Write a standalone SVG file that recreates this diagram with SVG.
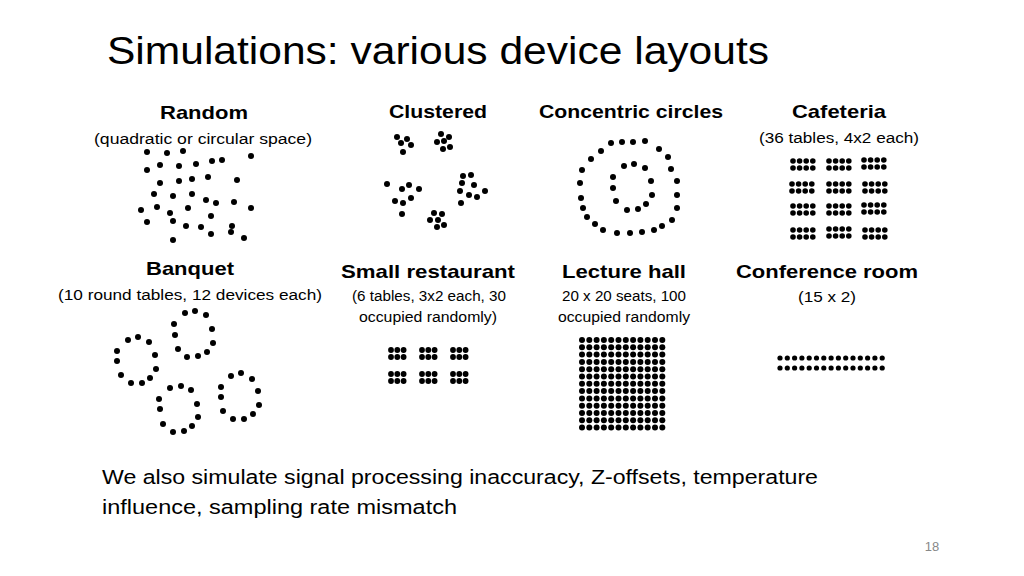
<svg xmlns="http://www.w3.org/2000/svg" width="1024" height="576" viewBox="0 0 1024 576">
<style>
text{font-family:"Liberation Sans",Arial,sans-serif;fill:#000}
.t{font-size:38px}
.h{font-size:19px;font-weight:bold;text-anchor:middle}
.s{font-size:14px;text-anchor:middle}
.b{font-size:20px}
circle{fill:#000}
</style>
<rect width="1024" height="576" fill="#fff"/>
<text class="t" x="107" y="64" textLength="662" lengthAdjust="spacingAndGlyphs">Simulations: various device layouts</text>

<g id="random">
<text class="h" x="204" y="119" textLength="88" lengthAdjust="spacingAndGlyphs">Random</text>
<text class="s" x="203" y="144" textLength="218" lengthAdjust="spacingAndGlyphs">(quadratic or circular space)</text>
<g id="random-dots">
<circle cx="147" cy="152" r="3"/><circle cx="167" cy="153" r="3"/><circle cx="183" cy="151" r="3"/><circle cx="251" cy="156" r="3"/><circle cx="147" cy="170" r="3"/><circle cx="160" cy="165" r="3"/><circle cx="179" cy="166" r="3"/><circle cx="196" cy="164" r="3"/><circle cx="212" cy="161" r="3"/><circle cx="222" cy="160" r="3"/><circle cx="160" cy="183" r="3"/><circle cx="179" cy="181" r="3"/><circle cx="192" cy="179" r="3"/><circle cx="208" cy="177" r="3"/><circle cx="237" cy="180" r="3"/><circle cx="154" cy="194" r="3"/><circle cx="173" cy="196" r="3"/><circle cx="192" cy="194" r="3"/><circle cx="206" cy="200" r="3"/><circle cx="216" cy="203" r="3"/><circle cx="234" cy="202" r="3"/><circle cx="141" cy="210" r="3"/><circle cx="157" cy="207" r="3"/><circle cx="170" cy="213" r="3"/><circle cx="188" cy="208" r="3"/><circle cx="251" cy="208" r="3"/><circle cx="147" cy="222" r="3"/><circle cx="173" cy="221" r="3"/><circle cx="211" cy="216" r="3"/><circle cx="186" cy="226" r="3"/><circle cx="201" cy="227" r="3"/><circle cx="232" cy="226" r="3"/><circle cx="211" cy="234" r="3"/><circle cx="231" cy="232" r="3"/><circle cx="244" cy="238" r="3"/><circle cx="173" cy="240" r="3"/>
</g>
</g>

<g id="clustered">
<text class="h" x="438" y="118" textLength="98" lengthAdjust="spacingAndGlyphs">Clustered</text>
<g>
<circle cx="397" cy="137" r="3"/><circle cx="407" cy="139" r="3"/><circle cx="401" cy="143" r="3"/><circle cx="411" cy="145" r="3"/><circle cx="403" cy="152" r="3"/><circle cx="441" cy="134" r="3"/><circle cx="449" cy="137" r="3"/><circle cx="437" cy="142" r="3"/><circle cx="444" cy="141" r="3"/><circle cx="450" cy="147" r="3"/><circle cx="443" cy="149" r="3"/><circle cx="387" cy="184" r="3"/><circle cx="409" cy="185" r="3"/><circle cx="402" cy="189" r="3"/><circle cx="419" cy="189" r="3"/><circle cx="411" cy="198" r="3"/><circle cx="395" cy="201" r="3"/><circle cx="403" cy="203" r="3"/><circle cx="402" cy="214" r="3"/><circle cx="463" cy="176" r="3"/><circle cx="471" cy="175" r="3"/><circle cx="462" cy="183" r="3"/><circle cx="474" cy="185" r="3"/><circle cx="460" cy="191" r="3"/><circle cx="469" cy="195" r="3"/><circle cx="477" cy="197" r="3"/><circle cx="485" cy="191" r="3"/><circle cx="461" cy="203" r="3"/><circle cx="434" cy="213" r="3"/><circle cx="442" cy="214" r="3"/><circle cx="430" cy="220" r="3"/><circle cx="438" cy="220" r="3"/><circle cx="444" cy="225" r="3"/><circle cx="437" cy="227" r="3"/>
</g>
</g>

<g id="concentric">
<text class="h" x="631" y="118" textLength="184" lengthAdjust="spacingAndGlyphs">Concentric circles</text>
<g>
<circle cx="611" cy="143" r="3"/><circle cx="622" cy="142" r="3"/><circle cx="633" cy="142" r="3"/><circle cx="645" cy="141" r="3"/><circle cx="659" cy="149" r="3"/><circle cx="668" cy="157" r="3"/><circle cx="671" cy="169" r="3"/><circle cx="677" cy="181" r="3"/><circle cx="677" cy="195" r="3"/><circle cx="677" cy="208" r="3"/><circle cx="672" cy="220" r="3"/><circle cx="662" cy="226" r="3"/><circle cx="654" cy="230" r="3"/><circle cx="642" cy="232" r="3"/><circle cx="630" cy="233" r="3"/><circle cx="617" cy="233" r="3"/><circle cx="603" cy="230" r="3"/><circle cx="595" cy="224" r="3"/><circle cx="587" cy="217" r="3"/><circle cx="583" cy="208" r="3"/><circle cx="581" cy="198" r="3"/><circle cx="580" cy="183" r="3"/><circle cx="582" cy="170" r="3"/><circle cx="591" cy="159" r="3"/><circle cx="601" cy="151" r="3"/>
<circle cx="624" cy="166" r="3"/><circle cx="634" cy="164" r="3"/><circle cx="645" cy="168" r="3"/><circle cx="651" cy="181" r="3"/><circle cx="652" cy="195" r="3"/><circle cx="646" cy="204" r="3"/><circle cx="638" cy="209" r="3"/><circle cx="627" cy="210" r="3"/><circle cx="616" cy="201" r="3"/><circle cx="613" cy="188" r="3"/><circle cx="613" cy="177" r="3"/>
</g>
</g>

<g id="cafeteria">
<text class="h" x="839" y="118" textLength="94" lengthAdjust="spacingAndGlyphs">Cafeteria</text>
<text class="s" x="839" y="143" textLength="160" lengthAdjust="spacingAndGlyphs">(36 tables, 4x2 each)</text>
<defs>
<g id="ct"><circle cx="0" cy="0" r="2.8"/><circle cx="6.6" cy="0" r="2.8"/><circle cx="13.2" cy="0" r="2.8"/><circle cx="19.8" cy="0" r="2.8"/><circle cx="0" cy="7" r="2.8"/><circle cx="6.6" cy="7" r="2.8"/><circle cx="13.2" cy="7" r="2.8"/><circle cx="19.8" cy="7" r="2.8"/></g>
<g id="rt"><circle cx="0" cy="0" r="2.9"/><circle cx="6.3" cy="0" r="2.9"/><circle cx="12.6" cy="0" r="2.9"/><circle cx="0" cy="7" r="2.9"/><circle cx="6.3" cy="7" r="2.9"/><circle cx="12.6" cy="7" r="2.9"/></g>
</defs>
<use href="#ct" x="793" y="161"/><use href="#ct" x="829" y="161"/><use href="#ct" x="864" y="160"/>
<use href="#ct" x="792" y="184"/><use href="#ct" x="829" y="184"/><use href="#ct" x="865" y="184"/>
<use href="#ct" x="793" y="206"/><use href="#ct" x="829" y="206"/><use href="#ct" x="864" y="205"/>
<use href="#ct" x="793" y="230"/><use href="#ct" x="829" y="229"/><use href="#ct" x="865" y="230"/>
</g>

<g id="banquet">
<text class="h" x="190" y="275" textLength="88" lengthAdjust="spacingAndGlyphs">Banquet</text>
<text class="s" x="190" y="300" textLength="264" lengthAdjust="spacingAndGlyphs">(10 round tables, 12 devices each)</text>
<g>
<circle cx="128" cy="340" r="3"/><circle cx="138" cy="337" r="3"/><circle cx="149" cy="342" r="3"/><circle cx="155" cy="355" r="3"/><circle cx="156" cy="369" r="3"/><circle cx="150" cy="378" r="3"/><circle cx="142" cy="383" r="3"/><circle cx="131" cy="383" r="3"/><circle cx="121" cy="375" r="3"/><circle cx="117" cy="361" r="3"/><circle cx="117" cy="351" r="3"/>
<circle cx="185" cy="313" r="3"/><circle cx="195" cy="311" r="3"/><circle cx="206" cy="315" r="3"/><circle cx="212" cy="329" r="3"/><circle cx="213" cy="343" r="3"/><circle cx="207" cy="352" r="3"/><circle cx="198" cy="356" r="3"/><circle cx="187" cy="357" r="3"/><circle cx="178" cy="349" r="3"/><circle cx="175" cy="335" r="3"/><circle cx="174" cy="324" r="3"/>
<circle cx="170" cy="388" r="3"/><circle cx="181" cy="386" r="3"/><circle cx="191" cy="390" r="3"/><circle cx="197" cy="404" r="3"/><circle cx="198" cy="417" r="3"/><circle cx="192" cy="426" r="3"/><circle cx="184" cy="431" r="3"/><circle cx="173" cy="432" r="3"/><circle cx="163" cy="424" r="3"/><circle cx="160" cy="409" r="3"/><circle cx="159" cy="399" r="3"/>
<circle cx="231" cy="376" r="3"/><circle cx="241" cy="373" r="3"/><circle cx="252" cy="379" r="3"/><circle cx="258" cy="391" r="3"/><circle cx="259" cy="405" r="3"/><circle cx="253" cy="414" r="3"/><circle cx="244" cy="419" r="3"/><circle cx="233" cy="419" r="3"/><circle cx="223" cy="411" r="3"/><circle cx="221" cy="397" r="3"/><circle cx="221" cy="387" r="3"/>
</g>
</g>

<g id="small-restaurant">
<text class="h" x="428" y="278" textLength="174" lengthAdjust="spacingAndGlyphs">Small restaurant</text>
<text class="s" x="429" y="301" textLength="154" lengthAdjust="spacingAndGlyphs">(6 tables, 3x2 each, 30</text>
<text class="s" x="428" y="322" textLength="138" lengthAdjust="spacingAndGlyphs">occupied randomly)</text>
<use href="#rt" x="391" y="350"/><use href="#rt" x="422" y="350"/><use href="#rt" x="453" y="350"/>
<use href="#rt" x="391" y="374"/><use href="#rt" x="422" y="374"/><use href="#rt" x="453" y="374"/>
</g>

<g id="lecture-hall">
<text class="h" x="624" y="278" textLength="124" lengthAdjust="spacingAndGlyphs">Lecture hall</text>
<text class="s" x="624" y="301" textLength="124" lengthAdjust="spacingAndGlyphs">20 x 20 seats, 100</text>
<text class="s" x="624" y="322" textLength="132" lengthAdjust="spacingAndGlyphs">occupied randomly</text>
<defs>
<g id="lr"><circle cx="0" cy="0" r="3"/><circle cx="7.3" cy="0" r="3"/><circle cx="14.6" cy="0" r="3"/><circle cx="21.9" cy="0" r="3"/><circle cx="29.2" cy="0" r="3"/><circle cx="36.5" cy="0" r="3"/><circle cx="43.8" cy="0" r="3"/><circle cx="51.1" cy="0" r="3"/><circle cx="58.4" cy="0" r="3"/><circle cx="65.7" cy="0" r="3"/><circle cx="73" cy="0" r="3"/><circle cx="80.3" cy="0" r="3"/></g>
</defs>
<use href="#lr" x="582" y="340"/><use href="#lr" x="582" y="347.3"/><use href="#lr" x="582" y="354.6"/><use href="#lr" x="582" y="361.9"/><use href="#lr" x="582" y="369.2"/><use href="#lr" x="582" y="376.5"/><use href="#lr" x="582" y="383.8"/><use href="#lr" x="582" y="391.1"/><use href="#lr" x="582" y="398.4"/><use href="#lr" x="582" y="405.7"/><use href="#lr" x="582" y="413"/><use href="#lr" x="582" y="420.3"/><use href="#lr" x="582" y="427.6"/>
</g>

<g id="conference-room">
<text class="h" x="827" y="278" textLength="182" lengthAdjust="spacingAndGlyphs">Conference room</text>
<text class="s" x="827" y="302" textLength="58" lengthAdjust="spacingAndGlyphs">(15 x 2)</text>
<defs>
<g id="cr"><circle cx="0" cy="0" r="2.6"/><circle cx="7.3" cy="0" r="2.6"/><circle cx="14.6" cy="0" r="2.6"/><circle cx="21.9" cy="0" r="2.6"/><circle cx="29.2" cy="0" r="2.6"/><circle cx="36.5" cy="0" r="2.6"/><circle cx="43.8" cy="0" r="2.6"/><circle cx="51.1" cy="0" r="2.6"/><circle cx="58.4" cy="0" r="2.6"/><circle cx="65.7" cy="0" r="2.6"/><circle cx="73" cy="0" r="2.6"/><circle cx="80.3" cy="0" r="2.6"/><circle cx="87.6" cy="0" r="2.6"/><circle cx="94.9" cy="0" r="2.6"/><circle cx="102.2" cy="0" r="2.6"/></g>
</defs>
<use href="#cr" x="780" y="358"/><use href="#cr" x="780" y="368"/>
</g>

<text class="b" x="102" y="484" textLength="716" lengthAdjust="spacingAndGlyphs">We also simulate signal processing inaccuracy, Z-offsets, temperature</text>
<text class="b" x="102" y="514" textLength="355" lengthAdjust="spacingAndGlyphs">influence, sampling rate mismatch</text>
<text x="932" y="551" style="font-size:13px;fill:#888;text-anchor:middle">18</text>
</svg>
